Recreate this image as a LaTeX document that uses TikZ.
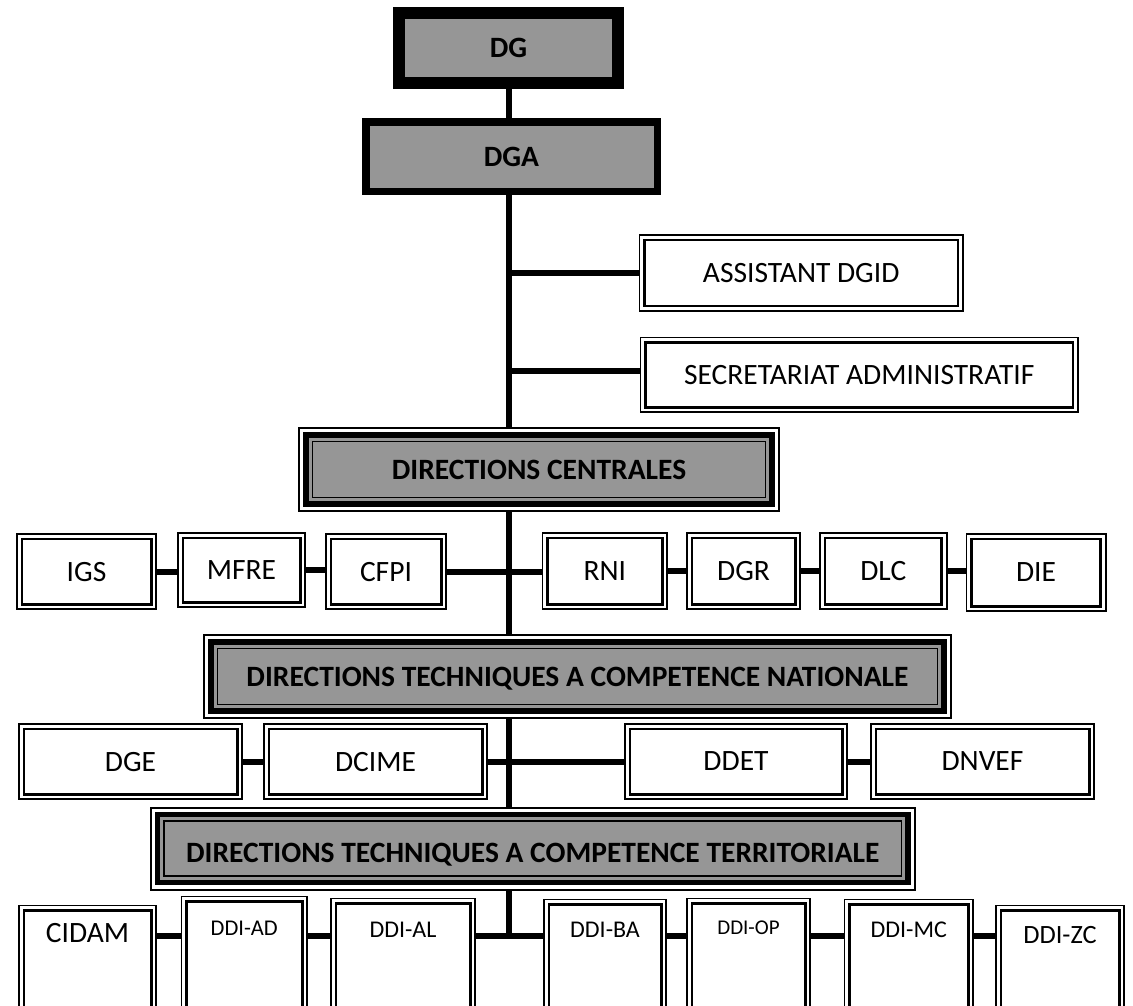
\documentclass[tikz,border=0pt]{standalone}
\usepackage{fontspec}
\setmainfont{Carlito}
\begin{document}
\begin{tikzpicture}[x=1pt,y=-1pt]
\definecolor{boxgray}{RGB}{150,150,150}
\tikzset{
  conn/.style={line width=6pt},
  topbox/.style={draw, fill=boxgray, inner sep=0pt, text depth=0pt,
    font=\fontsize{29.5}{33}\selectfont\bfseries},
  wbox/.style={draw, line width=1.6pt, fill=white, inner sep=0pt, text depth=0pt,
    font=\fontsize{29.5}{33}\selectfont,
    path picture={\draw[line width=2.6pt]
      ([shift={(5pt,-5pt)}]path picture bounding box.north west) rectangle
      ([shift={(-5pt,5pt)}]path picture bounding box.south east);}},
  gbox/.style={draw, line width=1.8pt, fill=white, inner sep=0pt, text depth=0pt,
    font=\fontsize{29.5}{33}\selectfont\bfseries,
    path picture={
      \draw[line width=5.5pt, fill=boxgray]
        ([shift={(7pt,-7pt)}]path picture bounding box.north west) rectangle
        ([shift={(-7pt,7pt)}]path picture bounding box.south east);
      \draw[line width=1.8pt]
        ([shift={(13.5pt,-13.5pt)}]path picture bounding box.north west) rectangle
        ([shift={(-13.5pt,13.5pt)}]path picture bounding box.south east);}},
  lowbox/.style={wbox, anchor=north, text depth=105pt},
}
\fill[white] (0,0) rectangle (1133,1005);
\useasboundingbox (0,0) rectangle (1133,1005);
\clip (0,0) rectangle (1133,1005);
\coordinate (tk) at (509,0);
\coordinate (bus) at (509,935.5);

% top of the hierarchy
\node[topbox, line width=12pt, minimum width=219pt, minimum height=70pt] (dg) at (508.5,48) {DG};
\node[topbox, line width=7.5pt, minimum width=291.5pt, minimum height=69.5pt] (dga) at (511.5,156.5) {DGA};

% staff units
\node[wbox, minimum width=323.7pt, minimum height=76.1pt] (asst) at (801.2,272.9) {ASSISTANT DGID};
\node[wbox, minimum width=437.3pt, minimum height=74.7pt] (secr) at (859.2,374.9) {SECRETARIAT ADMINISTRATIF};
\coordinate (secrin) at ([yshift=4pt]secr.west);

% group headers
\node[gbox, minimum width=480pt, minimum height=83pt] (dc) at (539,469.5) {DIRECTIONS CENTRALES};
\node[gbox, minimum width=747pt, minimum height=83pt] (dtcn) at (577.5,676.5) {DIRECTIONS TECHNIQUES A COMPETENCE NATIONALE};
\node[gbox, minimum width=764.4pt, minimum height=82pt, text height=27pt] (dtct) at (532.8,848.7) {DIRECTIONS TECHNIQUES A COMPETENCE TERRITORIALE};

% central directorates
\node[wbox, minimum width=139.4pt, minimum height=75.4pt] (igs) at (86.5,571.5) {IGS};
\node[wbox, minimum width=127.4pt, minimum height=74.4pt] (mfre) at (241.5,570) {MFRE};
\node[wbox, minimum width=120.4pt, minimum height=75.4pt] (cfpi) at (386,571.5) {CFPI};
\node[wbox, minimum width=124.9pt, minimum height=76.4pt] (rni) at (604.75,571) {RNI};
\node[wbox, minimum width=113.4pt, minimum height=76.4pt] (dgr) at (743.5,571) {DGR};
\node[wbox, minimum width=126.9pt, minimum height=76.4pt] (dlc) at (883.25,571) {DLC};
\node[wbox, minimum width=139.4pt, minimum height=77.4pt] (die) at (1036,572.5) {DIE};

% national technical directorates
\node[wbox, minimum width=223.4pt, minimum height=75.4pt] (dge) at (130.5,761.5) {DGE};
\node[wbox, minimum width=223.4pt, minimum height=75.4pt] (dcime) at (375.5,761.5) {DCIME};
\node[wbox, minimum width=222.4pt, minimum height=75.4pt] (ddet) at (736,761.5) {DDET};
\node[wbox, minimum width=223.4pt, minimum height=75.4pt] (dnvef) at (982.5,761.5) {DNVEF};

% territorial technical directorates
\node[lowbox, minimum width=137.4pt, text height=37pt] (cidam) at (87.5,904.8) {CIDAM};
\node[lowbox, minimum width=125.9pt, text height=39pt, font=\fontsize{22.5}{26}\selectfont] (ddiad) at (244.25,895.8) {DDI-AD};
\node[lowbox, minimum width=144.4pt, text height=39pt, font=\fontsize{24}{28}\selectfont] (ddial) at (403,897.5) {DDI-AL};
\node[lowbox, minimum width=122.4pt, text height=38pt, font=\fontsize{24}{28}\selectfont] (ddiba) at (605,898.8) {DDI-BA};
\node[lowbox, minimum width=123.4pt, text height=36pt, font=\fontsize{21}{24}\selectfont] (ddiop) at (748.5,897.8) {DDI-OP};
\node[lowbox, minimum width=128.9pt, text height=38pt, font=\fontsize{24}{28}\selectfont] (ddimc) at (908.75,898.8) {DDI-MC};
\node[lowbox, minimum width=128.4pt, text height=38pt, font=\fontsize{26.4}{30}\selectfont] (ddizc) at (1060,904.8) {DDI-ZC};

% main trunk
\draw[conn] (dg.south) -- (dg.south |- dga.north);
\draw[conn] (dga.south -| tk) -- (dc.north -| tk);
\draw[conn] (dc.south -| tk) -- (dtcn.north -| tk);
\draw[conn] (dtcn.south -| tk) -- (dtct.north -| tk);
\draw[conn] (dtct.south -| tk) -- (bus);

% staff links
\draw[conn] (asst.west) -- (asst.west -| tk);
\draw[conn] (secrin) -- (secrin -| tk);

% central row links
\draw[conn] (igs.east) -- (igs.east -| mfre.west);
\draw[conn] (mfre.east) -- (mfre.east -| cfpi.west);
\draw[conn] (cfpi.east) -- (cfpi.east -| rni.west);
\draw[conn] (rni.east) -- (rni.east -| dgr.west);
\draw[conn] (dgr.east) -- (dgr.east -| dlc.west);
\draw[conn] (dlc.east) -- (dlc.east -| die.west);

% national row links
\draw[conn] (dge.east) -- (dge.east -| dcime.west);
\draw[conn] (dcime.east) -- (dcime.east -| ddet.west);
\draw[conn] (ddet.east) -- (ddet.east -| dnvef.west);

% territorial row links
\draw[conn] (cidam.east |- bus) -- (ddiad.west |- bus);
\draw[conn] (ddiad.east |- bus) -- (ddial.west |- bus);
\draw[conn] (ddial.east |- bus) -- (ddiba.west |- bus);
\draw[conn] (ddiba.east |- bus) -- (ddiop.west |- bus);
\draw[conn] (ddiop.east |- bus) -- (ddimc.west |- bus);
\draw[conn] (ddimc.east |- bus) -- (ddizc.west |- bus);
\end{tikzpicture}
\end{document}
